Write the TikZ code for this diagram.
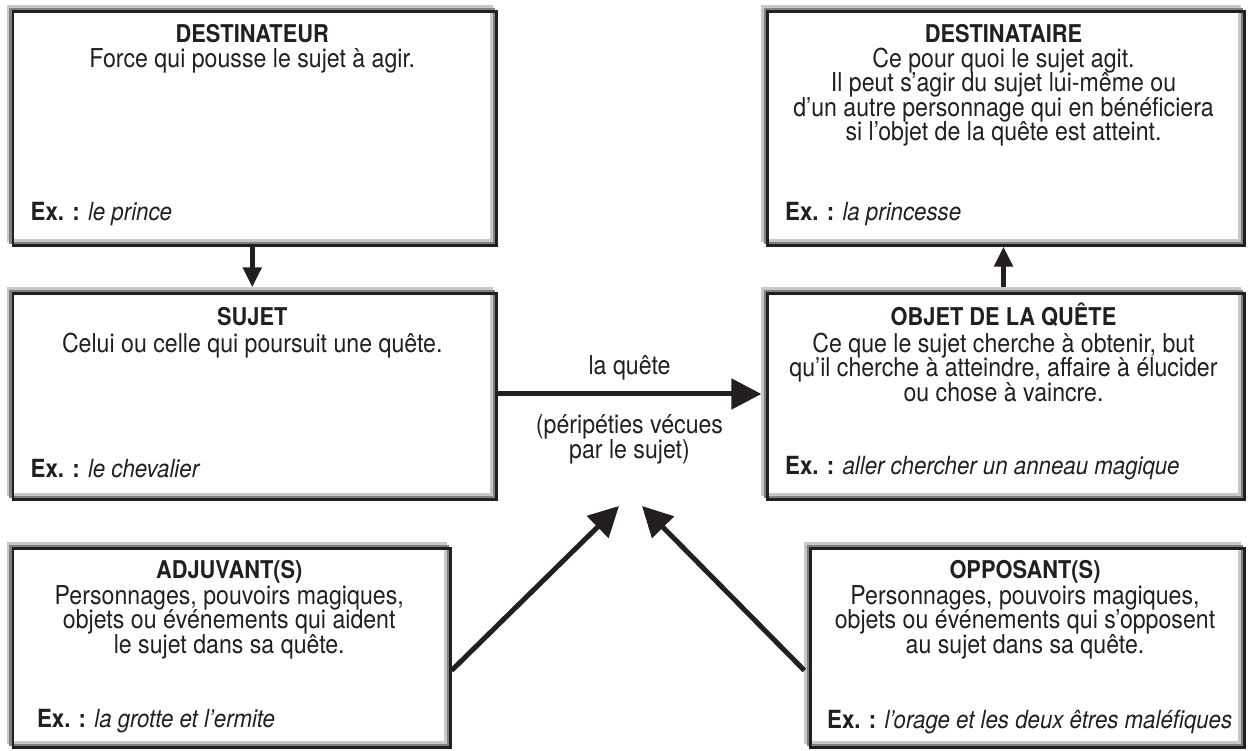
\documentclass[tikz,border=0pt]{standalone}
\usepackage{fontspec}
\setmainfont{TeX Gyre Heros}[FakeStretch=0.89]
\usepackage{xcolor}
\usepackage{tikz}
\usetikzlibrary{arrows.meta, positioning, calc}
\definecolor{framelight}{RGB}{200,200,200}
\definecolor{framegrey}{RGB}{128,128,128}
\definecolor{framedark}{RGB}{35,31,32}
\definecolor{inkblack}{RGB}{35,31,32}
\newcommand{\actanttext}[1]{\begin{minipage}[t]{470pt}\centering\lineskiplimit=-\maxdimen #1\end{minipage}}
\tikzset{
  actant/.style={
      draw=framegrey,
      line width=2.4pt,
      rectangle,
      inner sep=0pt,
      outer sep=3.6pt,
      preaction={draw=framelight, line width=2.4pt, transform canvas={shift={(-2.4pt,2.4pt)}}},
      postaction={draw=framedark, line width=2.4pt, transform canvas={shift={(2.4pt,-2.4pt)}}}
  },
  title/.style={
      anchor=base,
      inner sep=0pt,
      text=inkblack,
      font=\fontsize{24.5pt}{24pt}\selectfont\bfseries
  },
  body/.style={
      anchor=base,
      inner sep=0pt,
      text=inkblack,
      font=\fontsize{26pt}{24.5pt}\selectfont
  },
  example/.style={
      anchor=base west,
      inner sep=0pt,
      text=inkblack,
      font=\fontsize{25pt}{24pt}\selectfont
  },
  quest arrow/.style={-{Triangle[length=30pt, width=30pt]}, line width=5pt, draw=inkblack},
  link arrow/.style={-{Triangle[length=20pt, width=18pt]}, line width=5pt, draw=inkblack}
}

\begin{document}
\begin{tikzpicture}[x=1pt, y=1pt]
      \useasboundingbox (0,0) rectangle (1250,750);

      % Boxes
      \node (destinateur) [actant, minimum width=483.5pt, minimum height=234pt] at (252.25,624) {};
      \node (sujet) [actant, minimum width=483.5pt, minimum height=206pt, below=40.8pt of destinateur] {};
      \node (destinataire) [actant, minimum width=477pt, minimum height=234pt] at (1003.5,624) {};
      \node (objet) [actant, minimum width=477pt, minimum height=206pt, below=40.8pt of destinataire] {};
      \node (adjuvant) [actant, minimum width=437.5pt, minimum height=199pt, anchor=north west] at ([yshift=-41.8pt]sujet.south west) {};
      \node (opposant) [actant, minimum width=434pt, minimum height=199pt, anchor=north east] at ([yshift=-41.8pt]objet.south east) {};

      % Titles
      \node (destinateur-t) [title] at ([yshift=-37pt]destinateur.north) {DESTINATEUR};
      \node (sujet-t) [title] at ([yshift=-38pt]sujet.north) {SUJET};
      \node (destinataire-t) [title] at ([yshift=-37pt]destinataire.north) {DESTINATAIRE};
      \node (objet-t) [title] at ([yshift=-38pt]objet.north) {OBJET DE LA QUÊTE};
      \node (adjuvant-t) [title] at ([yshift=-36pt]adjuvant.north) {ADJUVANT(S)};
      \node (opposant-t) [title] at ([yshift=-36pt]opposant.north) {OPPOSANT(S)};

      % Definitions
      \node (destinateur-b) [body] at ([yshift=-25pt]destinateur-t.base) {\actanttext{Force qui pousse le sujet à agir.}};
      \node (sujet-b) [body] at ([yshift=-27pt]sujet-t.base) {\actanttext{Celui ou celle qui poursuit une quête.}};
      \node (destinataire-b) [body] at ([yshift=-25pt]destinataire-t.base) {\actanttext{Ce pour quoi le sujet agit.\\Il peut s’agir du sujet lui-même ou\\d’un autre personnage qui en bénéficiera\\si l’objet de la quête est atteint.}};
      \node (objet-b) [body] at ([yshift=-27pt]objet-t.base) {\actanttext{Ce que le sujet cherche à obtenir, but\\qu’il cherche à atteindre, affaire à élucider\\ou chose à vaincre.}};
      \node (adjuvant-b) [body] at ([yshift=-26pt]adjuvant-t.base) {\actanttext{Personnages, pouvoirs magiques,\\objets ou événements qui aident\\le sujet dans sa quête.}};
      \node (opposant-b) [body] at ([yshift=-26pt]opposant-t.base) {\actanttext{Personnages, pouvoirs magiques,\\objets ou événements qui s’opposent\\au sujet dans sa quête.}};

      % Examples
      \node (destinateur-ex) [example] at ([xshift=23.6pt, yshift=26pt]destinateur.south west) {\textbf{Ex. :} \textit{le prince}};
      \node (sujet-ex) [example] at ([xshift=23.6pt, yshift=23pt]sujet.south west) {\textbf{Ex. :} \textit{le chevalier}};
      \node (destinataire-ex) [example] at ([xshift=23.6pt, yshift=26pt]destinataire.south west) {\textbf{Ex. :} \textit{la princesse}};
      \node (objet-ex) [example] at ([xshift=23.6pt, yshift=25.6pt]objet.south west) {\textbf{Ex. :} \textit{aller chercher un anneau magique}};
      \node (adjuvant-ex) [example] at ([xshift=30pt, yshift=21pt]adjuvant.south west) {\textbf{Ex. :} \textit{la grotte et l’ermite}};
      \node (opposant-ex) [example] at ([xshift=22.6pt, yshift=20pt]opposant.south west) {\textbf{Ex. :} \textit{l’orage et les deux êtres maléfiques}};

      % Connections
      \draw[link arrow] (destinateur) -- (sujet);
      \draw[link arrow] (objet) -- (destinataire);
      \draw[quest arrow] (sujet) -- node (quete) [body, yshift=19pt] {la quête}
            node (peripeties) [body, yshift=-40pt] {\actanttext{(péripéties vécues\\par le sujet)}} (objet);
      \coordinate (quest-left) at (619,244);
      \coordinate (quest-right) at (642,244);
      \draw[quest arrow] ([yshift=-25pt]adjuvant.east) -- (quest-left);
      \draw[quest arrow] ([yshift=-25pt]opposant.west) -- (quest-right);
    \end{tikzpicture}
\end{document}
